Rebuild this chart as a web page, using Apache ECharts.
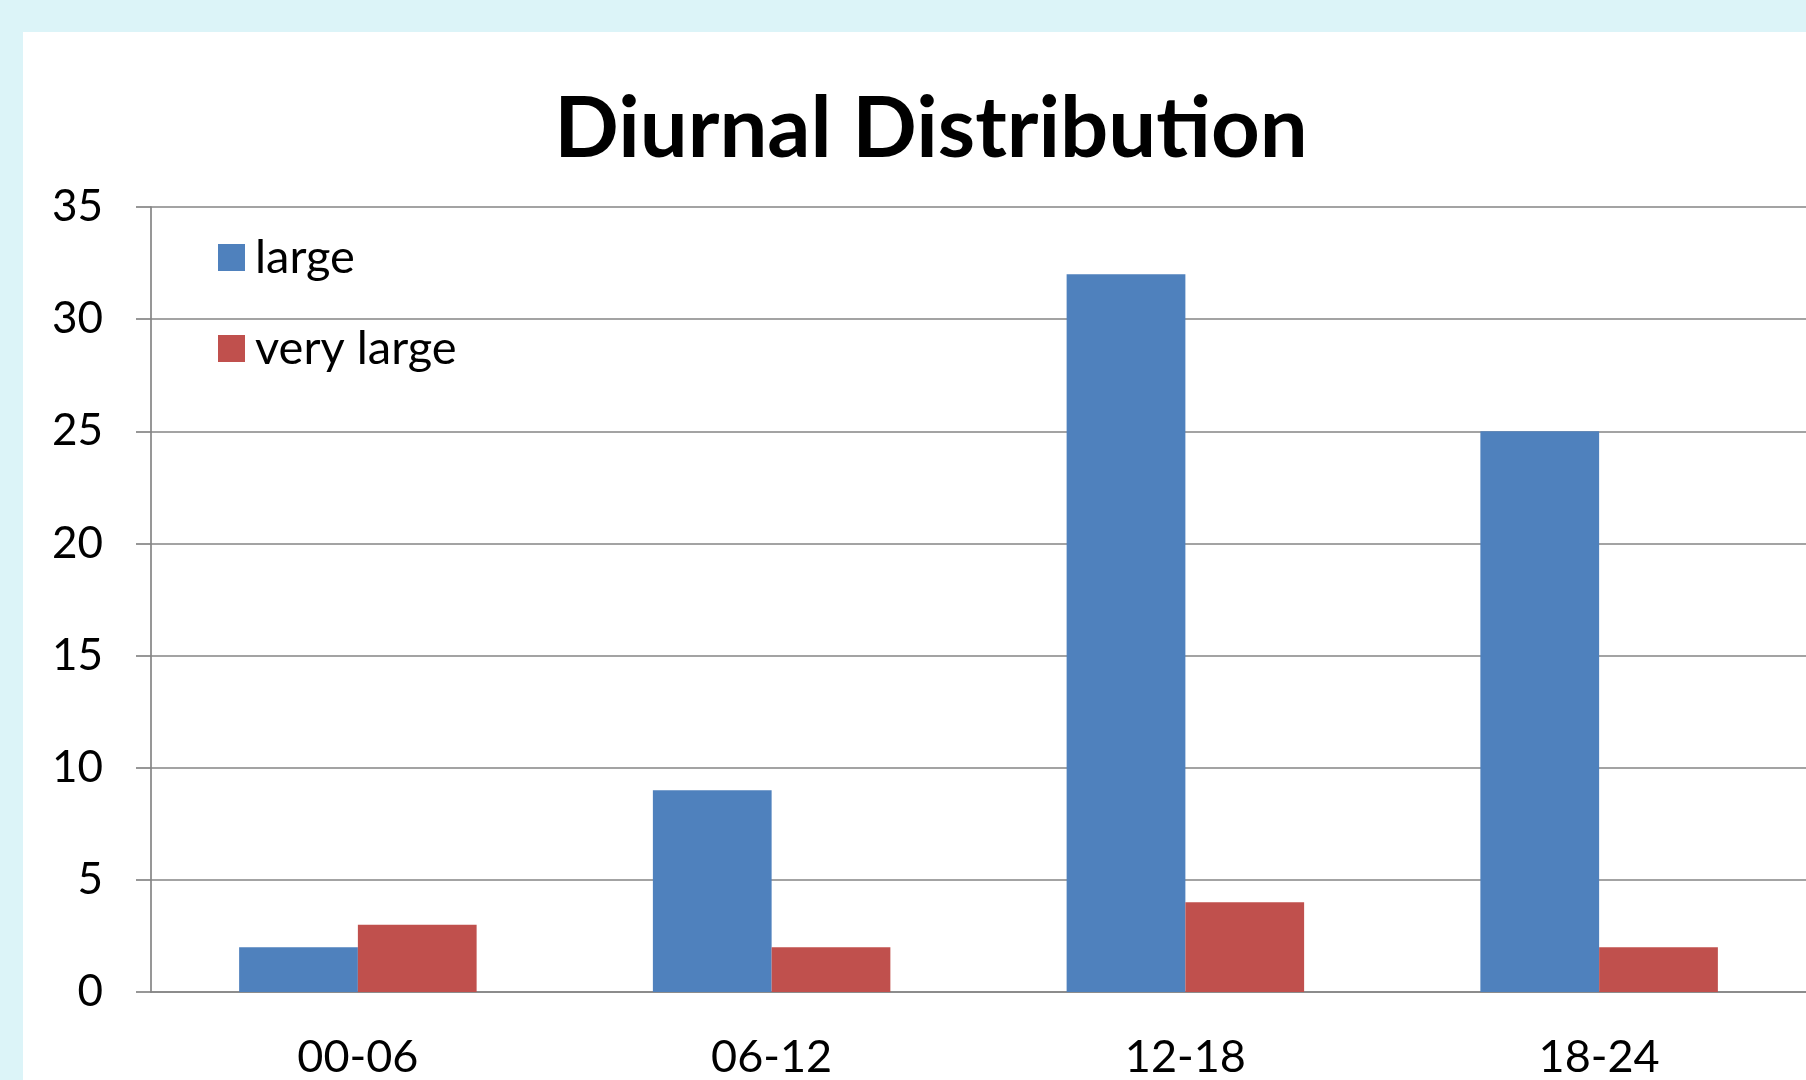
<!DOCTYPE html>
<html>
<head>
<meta charset="utf-8">
<script src="https://cdn.jsdelivr.net/npm/echarts@6/dist/echarts.min.js"></script>
<style>
  html, body { margin: 0; padding: 0; background: #dcf4f8; overflow: hidden; }
  #main { position: absolute; left: 23px; top: 32px; width: 1783px; height: 1048px; background: #ffffff; }
</style>
</head>
<body>
<div id="main"></div>
<script>
// diurnal distribution
var categories = ['00-06', '06-12', '12-18', '18-24'];
var largeValues = [2, 9, 32, 25];
var veryLargeValues = [3, 2, 4, 2];
var seriesNames = ['large', 'very large'];

var ec = echarts.init(document.getElementById('main'));
var gridColor = '#858585';
var font = 'Lato, "Open Sans", sans-serif';

ec.setOption({
    animation: false,
    color: ['#4f81bd', '#c0504d'],
    title: {
        text: 'Diurnal Distribution',
        left: 903,
        top: 50,
        textAlign: 'center',
        textStyle: { fontFamily: font, fontWeight: 'bold', fontSize: 85, color: '#000' }
    },
    legend: {
        orient: 'vertical',
        left: 190,
        top: 197,
        itemWidth: 27,
        itemHeight: 27,
        itemGap: 44,
        icon: 'rect',
        textStyle: { fontFamily: font, fontSize: 47, color: '#000', lineHeight: 40, padding: [0, 0, 0, 5] },
        data: seriesNames
    },
    grid: { left: 128, top: 175, width: 1658, bottom: 84, containLabel: false },
    xAxis: {
        type: 'category',
        data: categories,
        axisLine: { lineStyle: { color: gridColor, width: 1.7 } },
        axisTick: { length: 17, lineStyle: { color: gridColor, width: 1.7 } },
        axisLabel: { fontFamily: font, fontSize: 45, color: '#000', margin: 43 }
    },
    yAxis: {
        type: 'value',
        min: 0,
        max: 35,
        interval: 5,
        axisLine: { show: true, lineStyle: { color: gridColor, width: 1.7 } },
        axisTick: { show: true, length: 15, lineStyle: { color: gridColor, width: 1.7 } },
        splitLine: { lineStyle: { color: gridColor, width: 1.7 } },
        axisLabel: { fontFamily: font, fontSize: 44, color: '#000', margin: 48 }
    },
    series: [
        { name: seriesNames[0], type: 'bar', data: largeValues, barGap: '0%', barCategoryGap: '42.6%' },
        { name: seriesNames[1], type: 'bar', data: veryLargeValues, barGap: '0%', barCategoryGap: '42.6%' }
    ]
});
</script>
</body>
</html>
